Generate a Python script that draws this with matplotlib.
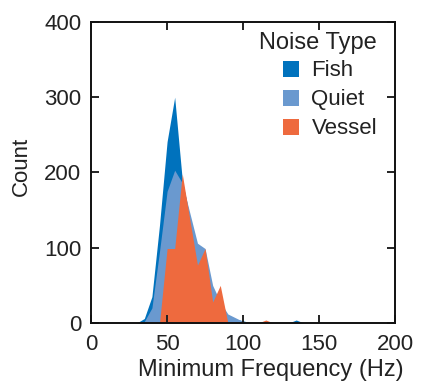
import numpy as np
import matplotlib
matplotlib.use("Agg")
import matplotlib.pyplot as plt
from matplotlib.patches import Patch

plt.rcParams['font.family'] = ['Liberation Sans', 'DejaVu Sans']
plt.rcParams['text.color'] = '#222222'
plt.rcParams['xtick.color'] = '#222222'
plt.rcParams['ytick.color'] = '#222222'
plt.rcParams['axes.labelcolor'] = '#222222'

# histogram counts per 5 Hz bin
freq = [20, 25, 30, 35, 40, 45, 50, 55, 60, 65, 70, 75, 80, 85, 90, 95, 100,
        105, 110, 115, 120, 125, 130, 135, 140, 145]
fish = [0, 0, 0, 6, 35, 130, 241, 300, 190, 140, 100, 90, 45, 20, 10, 5, 3,
        0, 0, 0, 0, 0, 0, 4, 0, 0]
quiet = [0, 0, 0, 2, 20, 95, 175, 203, 186, 146, 106, 99, 50, 28, 12, 7, 2,
         0, 0, 0, 0, 0, 0, 0, 0, 0]
vessel = [0, 0, 0, 0, 0, 0, 99, 99, 198, 137, 77, 99, 28, 50, 0, 0, 0,
          0, 0, 4, 0, 0, 0, 0, 0, 0]

names = ['Fish', 'Quiet', 'Vessel']
colors = ['#0072BD', '#6A99CF', '#EE6A3E']

fig = plt.figure(figsize=(4.34, 3.85), dpi=100)
ax = fig.add_axes([0.21, 0.161, 0.700, 0.782])

for y, c in zip([fish, quiet, vessel], colors):
    ax.fill_between(freq, y, 0, color=c, linewidth=0)

ax.set_xlim(0, 200)
ax.set_ylim(0, 400)
ax.set_xticks([0, 50, 100, 150, 200])
ax.set_yticks([0, 100, 200, 300, 400])
ax.tick_params(direction='in', length=6, width=1.4, top=True, right=True,
               labelsize=16)
ax.tick_params(axis='x', pad=8)
ax.tick_params(axis='y', pad=7)
for s in ax.spines.values():
    s.set_linewidth(1.4)
    s.set_color('#111111')

ax.set_xlabel('Minimum Frequency (Hz)', fontsize=17, labelpad=3)
ax.xaxis.label.set_x(0.592)
ax.set_ylabel('Count', fontsize=16, labelpad=9)
ax.yaxis.label.set_y(0.52)

handles = [Patch(facecolor=c, edgecolor='none', label=n) for n, c in zip(names, colors)]
leg = ax.legend(handles=handles, loc='upper left', bbox_to_anchor=(0.63, 0.872),
                frameon=False, fontsize=16, borderpad=0, borderaxespad=0,
                handlelength=0.75, handleheight=0.75, handletextpad=0.55,
                labelspacing=0.36)
ax.text(0.94, 0.93, 'Noise Type', transform=ax.transAxes, ha='right', va='center',
        fontsize=17)

fig.savefig('out.png', dpi=100)
